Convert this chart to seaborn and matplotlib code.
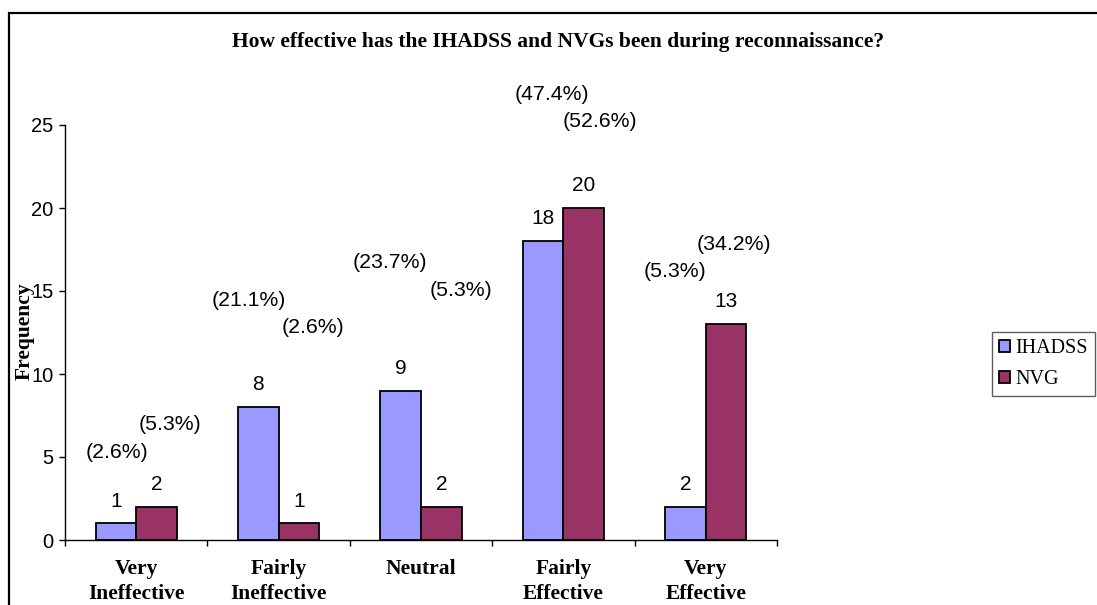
import matplotlib
matplotlib.use("Agg")
import matplotlib.pyplot as plt
from matplotlib.patches import Rectangle, Patch
import numpy as np
import pandas as pd
import seaborn as sns

# Survey responses
categories = ["Very\nIneffective", "Fairly\nIneffective", "Neutral", "Fairly\nEffective", "Very\nEffective"]
ihadss = [1, 8, 9, 18, 2]
nvg = [2, 1, 2, 20, 13]
series_names = ["IHADSS", "NVG"]
respondents = 38

# Where each percentage note sits (x in category units, y in frequency units)
ihadss_pct_pos = [(-0.135, 5.3), (0.792, 14.4), (1.782, 16.69), (2.92, 26.81), (3.784, 16.2)]
nvg_pct_pos = [(0.237, 6.93), (1.242, 12.83), (2.281, 15.06), (3.257, 25.24), (4.198, 17.83)]

colors = ["#9999FF", "#993366"]
sans = ["Liberation Sans", "DejaVu Sans"]
serif = ["Liberation Serif", "DejaVu Serif"]

sns.set_style("white")
plt.rcParams["font.family"] = sans
plt.rcParams.update({"text.color": "black", "axes.labelcolor": "black",
                     "xtick.color": "black", "ytick.color": "black"})

df = pd.DataFrame({
    "category": categories * 2,
    "count": ihadss + nvg,
    "device": [series_names[0]] * len(categories) + [series_names[1]] * len(categories),
})

fig = plt.figure(figsize=(10.97, 6.05), dpi=100)
ax = fig.add_axes([65 / 1097, 65 / 605, 712 / 1097, 415 / 605])

sns.barplot(data=df, x="category", y="count", hue="device", order=categories,
            hue_order=series_names, palette=colors, saturation=1, width=0.57,
            edgecolor="black", linewidth=1.3, ax=ax, legend=False)

ax.set_xlim(-0.5, len(categories) - 0.5)
ax.set_ylim(0, 25)
ax.set_yticks([0, 5, 10, 15, 20, 25])
ax.tick_params(axis="y", direction="out", length=6 * 0.72, width=1, labelsize=14.5,
               pad=4, left=True, color="black", labelcolor="black")
ax.set_xticks(range(len(categories)))
ax.set_xticklabels(categories, fontfamily=serif, fontweight="bold", fontsize=15.5,
                   linespacing=1.32, color="black")
ax.tick_params(axis="x", which="major", length=0, pad=14)
ax.set_xticks(np.arange(-0.5, len(categories)), minor=True)
ax.tick_params(axis="x", which="minor", direction="out", length=6 * 0.72, width=1,
               bottom=True, color="black")
for s in ["top", "right"]:
    ax.spines[s].set_visible(False)
for s in ["left", "bottom"]:
    ax.spines[s].set_color("black")
    ax.spines[s].set_linewidth(1)
ax.set_xlabel("")
ax.set_ylabel("")

# Counts above the bars and percentages of respondents
for container, values, pct_pos in zip(ax.containers, [ihadss, nvg], [ihadss_pct_pos, nvg_pct_pos]):
    for bar, v, (px, py) in zip(container.patches, values, pct_pos):
        ax.annotate(f"{v}", (bar.get_x() + bar.get_width() / 2, bar.get_height()),
                    xytext=(0, 16), textcoords="offset points", ha="center", va="center",
                    fontsize=15, color="black", annotation_clip=False)
        ax.text(px, py, f"({100 * v / respondents:.1f}%)", ha="center", va="center",
                fontsize=15.3, color="black", clip_on=False)

fig.text(558 / 1097, 1 - 42 / 605, "How effective has the IHADSS and NVGs been during reconnaissance?",
         ha="center", va="center", fontfamily=serif, fontweight="bold", fontsize=15.5,
         color="black")
fig.text(25 / 1097, 1 - 331 / 605, "Frequency", rotation=90, ha="center", va="center",
         fontfamily=serif, fontweight="bold", fontsize=15.5, color="black")

handles = [Patch(facecolor=c, edgecolor="black", linewidth=1.3) for c in colors]
leg = ax.legend(handles, series_names, loc="upper left",
                bbox_to_anchor=(992 / 1097, 1 - 332 / 605), bbox_transform=fig.transFigure,
                borderaxespad=0, frameon=True, fancybox=False, handlelength=0.55,
                handleheight=0.55, handletextpad=0.25, labelspacing=0.6, borderpad=0.35,
                prop={"family": serif, "size": 14.5})
leg.get_frame().set_edgecolor("#333333")
leg.get_frame().set_linewidth(1)
for t in leg.get_texts():
    t.set_color("black")

# Outer frame around the chart area
fig.patches.append(Rectangle((8.5 / 1097, -0.1), 1.2, 1.1 - 12.5 / 605, transform=fig.transFigure,
                             fill=False, edgecolor="black", linewidth=1.6))

fig.savefig("out.png", dpi=100)
